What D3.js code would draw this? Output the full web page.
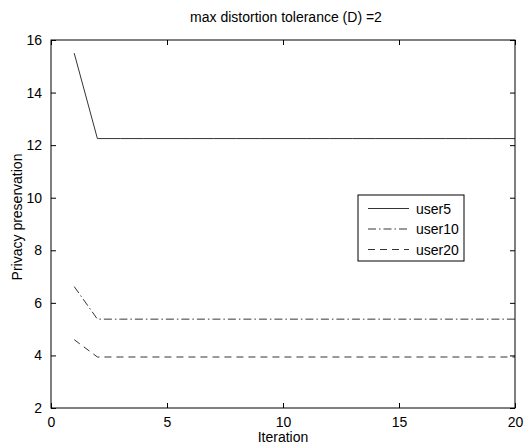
<!DOCTYPE html>
<html>
<head>
<meta charset="utf-8">
<script src="https://cdn.jsdelivr.net/npm/d3@7"></script>
<style>
  body { margin: 0; background: #fff; }
  svg text { font-family: "Liberation Sans", Arial, sans-serif; font-size: 14px; fill: #000; }
</style>
</head>
<body>
<svg id="chart"></svg>
<script>
// chart values
var iterations = d3.range(1, 21);
var user5 = [15.5].concat(d3.range(19).map(function() { return 12.25; }));
var user10 = [6.62].concat(d3.range(19).map(function() { return 5.38; }));
var user20 = [4.6].concat(d3.range(19).map(function() { return 3.94; }));
var seriesNames = ['user5', 'user10', 'user20'];
var xTicks = [0, 5, 10, 15, 20];
var yTicks = [2, 4, 6, 8, 10, 12, 14, 16];

var width = 529, height = 445;
var margin = { top: 40, right: 14, bottom: 37, left: 51 };

var svg = d3.select('#chart')
	.attr('width', width)
	.attr('height', height);

var x = d3.scaleLinear().domain([0, 20]).range([margin.left, width - margin.right]);
var y = d3.scaleLinear().domain([2, 16]).range([height - margin.bottom, margin.top]);

var dashes = { user5: null, user10: '8,3,1.5,3', user20: '7,5' };
var allData = { user5: user5, user10: user10, user20: user20 };

// box
svg.append('rect')
	.attr('x', x(0)).attr('y', y(16))
	.attr('width', x(20) - x(0)).attr('height', y(2) - y(16))
	.attr('fill', 'none').attr('stroke', '#000').attr('stroke-width', 1);

// axes with inward ticks
var tk = 5;
var gx = svg.append('g').attr('transform', 'translate(0,' + y(2) + ')')
	.call(d3.axisBottom(x).tickValues(xTicks).tickSizeInner(-tk).tickSizeOuter(0).tickPadding(tk + 4));
var gxt = svg.append('g').attr('transform', 'translate(0,' + y(16) + ')')
	.call(d3.axisTop(x).tickValues(xTicks).tickSizeInner(-tk).tickSizeOuter(0).tickFormat(''));
var gy = svg.append('g').attr('transform', 'translate(' + x(0) + ',0)')
	.call(d3.axisLeft(y).tickValues(yTicks).tickSizeInner(-tk).tickSizeOuter(0).tickPadding(tk + 4));
var gyr = svg.append('g').attr('transform', 'translate(' + x(20) + ',0)')
	.call(d3.axisRight(y).tickValues(yTicks).tickSizeInner(-tk).tickSizeOuter(0).tickFormat(''));

[gx, gxt, gy, gyr].forEach(function(g) {
	g.select('.domain').remove();
	g.selectAll('line').attr('stroke', '#000');
	g.selectAll('text').attr('font-family', null).attr('font-size', null);
});

// lines
var line = d3.line()
	.x(function(d, i) { return x(iterations[i]); })
	.y(function(d) { return y(d); });

seriesNames.forEach(function(name) {
	svg.append('path')
		.datum(allData[name])
		.attr('d', line)
		.attr('fill', 'none')
		.attr('stroke', '#000')
		.attr('stroke-width', 0.8)
		.attr('stroke-dasharray', dashes[name]);
});

// title and labels
svg.append('text')
	.attr('x', 286).attr('y', 22)
	.attr('text-anchor', 'middle')
	.text('max distortion tolerance (D) =2');

svg.append('text')
	.attr('x', (x(0) + x(20)) / 2).attr('y', 442)
	.attr('text-anchor', 'middle')
	.text('Iteration');

svg.append('text')
	.attr('transform', 'translate(22,217) rotate(-90)')
	.attr('text-anchor', 'middle')
	.text('Privacy preservation');

// legend
var legend = svg.append('g').attr('transform', 'translate(358,195)');
legend.append('rect')
	.attr('width', 106).attr('height', 66)
	.attr('fill', '#fff').attr('stroke', '#000').attr('stroke-width', 1);
seriesNames.forEach(function(name, i) {
	var ly = 13.5 + i * 20.5;
	legend.append('line')
		.attr('x1', 10).attr('x2', 51)
		.attr('y1', ly).attr('y2', ly)
		.attr('stroke', '#000').attr('stroke-width', 0.8)
		.attr('stroke-dasharray', dashes[name]);
	legend.append('text')
		.attr('x', 58).attr('y', ly + 5)
		.text(name);
});
</script>
</body>
</html>
